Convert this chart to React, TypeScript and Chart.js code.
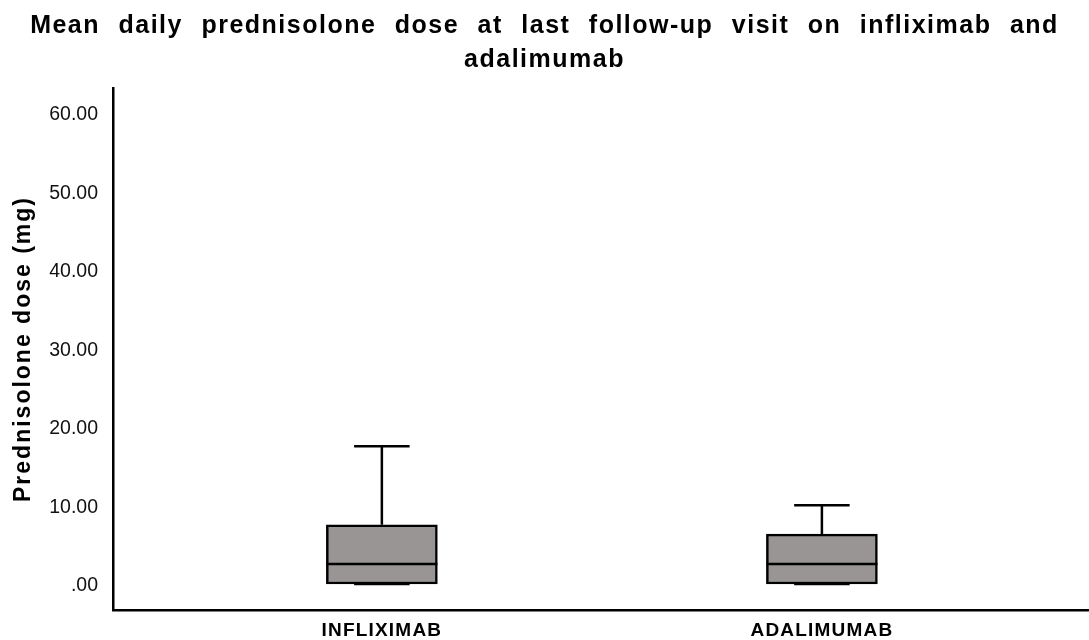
import React, { useEffect, useRef } from "react";
import { Chart, registerables } from "chart.js";

Chart.register(...registerables);

const categories = ["INFLIXIMAB", "ADALIMUMAB"];
const positions = [1, 2];
const q1Values = [0.25, 0.25];
const medianValues = [2.8, 2.8];
const q3Values = [7.8, 6.6];
const minValues = [0.25, 0.25];
const maxValues = [17.8, 10.3];
const yTickValues = [0, 10, 20, 30, 40, 50, 60];
const yTickLabels = [".00", "10.00", "20.00", "30.00", "40.00", "50.00", "60.00"];

const BOX_WIDTH = 111;
const FONT = "'Liberation Sans', Arial, sans-serif";
const TITLE_SIZE = 25;
const YTITLE_SIZE = 23;
const XTICK_SIZE = 19;
const YTICK_SIZE = 19.5;

// letter / word spacing per font size (the reference uses a loosely tracked Helvetica)
const spacingFor = (size: number) => {
  if (size === TITLE_SIZE) return { letter: 1.5, word: 10 };
  if (size === YTITLE_SIZE) return { letter: 2, word: 0 };
  if (size === XTICK_SIZE) return { letter: 1.2, word: 0 };
  return { letter: 0, word: 0 };
};

const boxPlugin = {
  id: "boxWhiskers",
  afterDatasetsDraw(chart: any) {
    const { ctx, scales } = chart;
    const xs = scales.x;
    const ys = scales.y;
    ctx.save();
    ctx.strokeStyle = "#000";
    ctx.lineWidth = 2.5;
    ctx.lineCap = "butt";
    positions.forEach((p, i) => {
      const cx = xs.getPixelForValue(p);
      const half = BOX_WIDTH / 2;
      const capHalf = BOX_WIDTH / 4;
      const yMax = ys.getPixelForValue(maxValues[i]);
      const yQ3 = ys.getPixelForValue(q3Values[i]);
      const yMin = ys.getPixelForValue(minValues[i]);
      const yQ1 = ys.getPixelForValue(q1Values[i]);
      const yMed = ys.getPixelForValue(medianValues[i]);
      ctx.beginPath();
      ctx.moveTo(cx, yQ3);
      ctx.lineTo(cx, yMax);
      ctx.moveTo(cx - capHalf, yMax);
      ctx.lineTo(cx + capHalf, yMax);
      ctx.moveTo(cx, yQ1);
      ctx.lineTo(cx, yMin);
      ctx.moveTo(cx - capHalf, yMin);
      ctx.lineTo(cx + capHalf, yMin);
      ctx.moveTo(cx - half, yMed);
      ctx.lineTo(cx + half, yMed);
      ctx.stroke();
    });
    ctx.restore();
  },
};

export default function App() {
  const canvasRef = useRef<HTMLCanvasElement | null>(null);

  useEffect(() => {
    const canvas = canvasRef.current;
    if (!canvas) return;
    const c2d: any = canvas.getContext("2d");
    const origFill = c2d.fillText;
    c2d.fillText = function (text: string, x: number, y: number, maxWidth?: number) {
      const m = /(\d+(?:\.\d+)?)px/.exec(this.font);
      const size = m ? parseFloat(m[1]) : 0;
      const sp = spacingFor(size);
      this.letterSpacing = sp.letter + "px";
      this.wordSpacing = sp.word + "px";
      if (maxWidth === undefined || maxWidth === null) origFill.call(this, text, x, y);
      else origFill.call(this, text, x, y, maxWidth);
      this.letterSpacing = "0px";
      this.wordSpacing = "0px";
    };

    const chart = new Chart(canvas, {
      type: "bar",
      data: {
        datasets: [
          {
            data: positions.map((p, i) => ({ x: p, y: [q1Values[i], q3Values[i]] })) as any,
            backgroundColor: "#999595",
            borderColor: "#000",
            borderWidth: 2.5,
            borderSkipped: false,
            barThickness: BOX_WIDTH,
          },
        ],
      },
      options: {
        animation: false,
        responsive: false,
        maintainAspectRatio: false,
        layout: { padding: { left: 0, right: 0, top: 0, bottom: 0 } },
        plugins: {
          legend: { display: false },
          tooltip: { enabled: false },
          title: {
            display: true,
            text: [
              "Mean daily prednisolone dose at last follow-up visit on infliximab and",
              "adalimumab",
            ],
            color: "#000",
            font: { family: FONT, size: TITLE_SIZE, weight: "bold", lineHeight: 1.36 },
            padding: { top: 9, bottom: 11 },
          },
        },
        scales: {
          x: {
            type: "linear",
            min: 0.389,
            max: 2.607,
            offset: false,
            grid: { display: false, drawTicks: false },
            border: { display: true, color: "#000", width: 2.5 },
            afterBuildTicks: (scale: any) => {
              scale.ticks = positions.map((v) => ({ value: v }));
            },
            afterFit: (scale: any) => {
              scale.height = 30;
            },
            ticks: {
              color: "#000",
              padding: 9,
              autoSkip: false,
              maxRotation: 0,
              font: { family: FONT, size: XTICK_SIZE, weight: "bold" },
              callback: (v: any) => {
                const idx = positions.indexOf(Number(v));
                return idx >= 0 ? categories[idx] : "";
              },
            },
          },
          y: {
            type: "linear",
            min: -3.06,
            max: 63.44,
            grid: { display: false, drawTicks: false },
            border: { display: true, color: "#000", width: 2.5 },
            afterBuildTicks: (scale: any) => {
              scale.ticks = yTickValues.map((v) => ({ value: v }));
            },
            afterFit: (scale: any) => {
              scale.width = 113;
            },
            ticks: {
              color: "#111",
              padding: 15,
              font: { family: FONT, size: YTICK_SIZE },
              callback: (v: any) => {
                const idx = yTickValues.indexOf(Number(v));
                return idx >= 0 ? yTickLabels[idx] : "";
              },
            },
            title: {
              display: true,
              text: "Prednisolone dose (mg)",
              color: "#000",
              font: { family: FONT, size: YTITLE_SIZE, weight: "bold" },
              padding: { top: 10, bottom: 0 },
            },
          },
        },
      },
      plugins: [boxPlugin],
    });
    return () => {
      chart.destroy();
      c2d.fillText = origFill;
    };
  }, []);

  return (
    <div style={{ position: "fixed", left: 0, top: 0, width: 1089, height: 640, background: "#fff" }}>
      <canvas ref={canvasRef} width={1089} height={640} style={{ width: 1089, height: 640 }} />
    </div>
  );
}
